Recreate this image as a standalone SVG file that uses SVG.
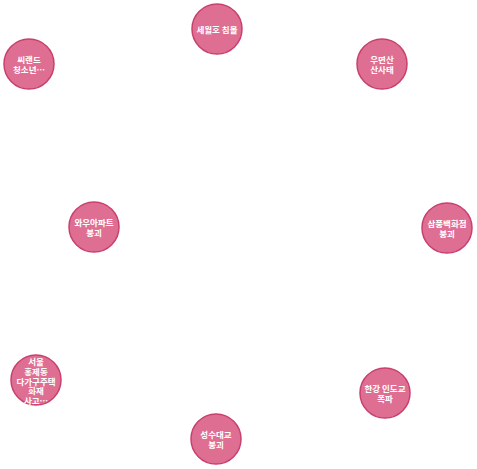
<svg xmlns="http://www.w3.org/2000/svg" width="477" height="469" viewBox="0 0 477 469">
<style>
.n{fill:#df6e93;stroke:#c8416e;stroke-width:1.5}
.t{fill:#fff;font-family:"Noto Sans CJK KR","Noto Sans",sans-serif;font-size:8.5px;font-weight:bold;text-anchor:middle;dominant-baseline:central}
</style>
<rect width="477" height="469" fill="#fff"/>
<g id="connectors"></g>
<g id="n1"><circle class="n" cx="217" cy="29" r="25"/><text class="t" x="217" y="29">세월호 침몰</text></g>
<g id="n2"><circle class="n" cx="29" cy="64" r="25"/><text class="t" x="29" y="59">씨랜드</text><text class="t" x="29" y="69">청소년…</text></g>
<g id="n3"><circle class="n" cx="382" cy="64" r="25"/><text class="t" x="382" y="59">우면산</text><text class="t" x="382" y="69">산사태</text></g>
<g id="n4"><circle class="n" cx="94" cy="227" r="25"/><text class="t" x="94" y="222">와우아파트</text><text class="t" x="94" y="232">붕괴</text></g>
<g id="n5"><circle class="n" cx="447" cy="228" r="25"/><text class="t" x="447" y="223">삼풍백화점</text><text class="t" x="447" y="233">붕괴</text></g>
<g id="n6"><circle class="n" cx="36" cy="380" r="25"/><text class="t" x="36" y="361">서울</text><text class="t" x="36" y="371">홍제동</text><text class="t" x="36" y="380.5">다가구주택</text><text class="t" x="36" y="390">화재</text><text class="t" x="36" y="400">사고…</text></g>
<g id="n7"><circle class="n" cx="385" cy="393" r="25"/><text class="t" x="385" y="388">한강 인도교</text><text class="t" x="385" y="398">폭파</text></g>
<g id="n8"><circle class="n" cx="216" cy="439" r="25"/><text class="t" x="216" y="434">성수대교</text><text class="t" x="216" y="444">붕괴</text></g>
</svg>
